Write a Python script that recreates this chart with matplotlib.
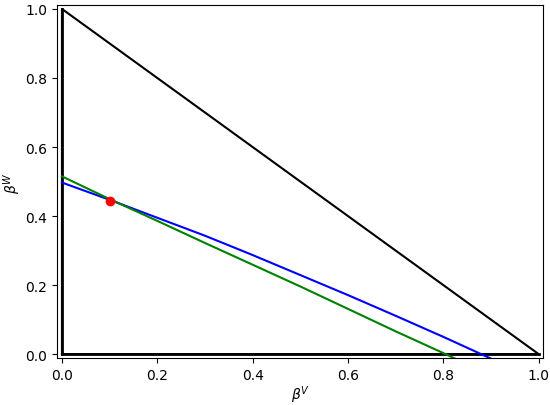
import numpy as np
import matplotlib
matplotlib.use("Agg")
import matplotlib.pyplot as plt

# simplex edges
edge_x = [0, 1, 0, 0]
edge_y = [0, 0, 1, 0]

# curves
bv = [0.0, 0.1, 0.2, 0.3, 0.4, 0.5, 0.6, 0.7, 0.8, 0.9]
blue_w = [0.497, 0.447, 0.395, 0.343, 0.287, 0.229, 0.171, 0.111, 0.050, -0.013]
green_v = [0.0, 0.1, 0.2, 0.3, 0.4, 0.5, 0.6, 0.7, 0.8, 0.84]
green_w = [0.515, 0.449, 0.386, 0.322, 0.259, 0.196, 0.131, 0.066, 0.003, -0.023]

eq_v = [0.1]
eq_w = [0.444]

fig, ax = plt.subplots(figsize=(5.5, 4.06), dpi=100)
ax.plot(edge_x, edge_y, 'k-', lw=1.5)
ax.plot([0, 0], [0, 1], 'k-', lw=2)
ax.plot([0, 1], [0, 0], 'k-', lw=2)
ax.plot(bv, blue_w, 'b-', lw=1.5)
ax.plot(green_v, green_w, 'g-', lw=1.5)
ax.plot(eq_v, eq_w, 'ro', ms=6)

ax.set_xlim(-0.01, 1.01)
ax.set_ylim(-0.011, 1.01)
ax.set_xlabel(r'$\beta^V$', labelpad=1)
ax.set_ylabel(r'$\beta^W$', labelpad=2)
plt.subplots_adjust(left=0.104, right=0.988, top=0.984, bottom=0.116)
plt.savefig('out.png', dpi=100)
